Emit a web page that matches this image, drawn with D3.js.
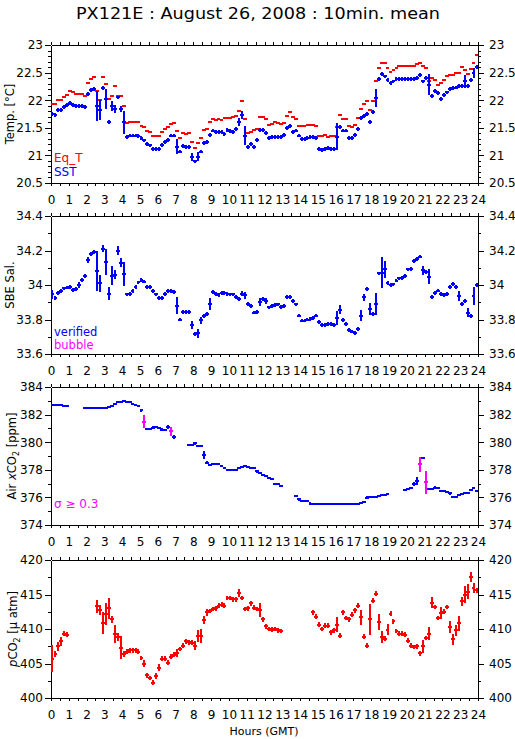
<!DOCTYPE html>
<html><head><meta charset="utf-8">
<script src="https://cdn.jsdelivr.net/npm/d3@7"></script>
<style>body{margin:0;background:#fff}svg{display:block}text{font-family:"DejaVu Sans",sans-serif}</style>
</head><body><svg id="c" width="515" height="739"></svg>
<script>
// ---------- DATA (10-minute means, index i = minute 10*i+5 GMT) ----------
const STEP_MIN = 10;
const hourTicks = [0,1,2,3,4,5,6,7,8,9,10,11,12,13,14,15,16,17,18,19,20,21,22,23,24];
const tempTicks = [20.5,21,21.5,22,22.5,23];
const salTicks = [33.6,33.8,34,34.2,34.4];
const xco2Ticks = [374,376,378,380,382,384];
const pco2Ticks = [400,405,410,415,420];

const eqT = [21.93,21.93,22.0,22.0,22.06,22.1,22.17,22.14,22.11,22.11,
 22.12,22.08,22.31,22.38,22.42,22.17,22.0,22.42,22.3,22.02,
 22.08,22.26,22.08,22.08,21.89,21.58,21.6,21.6,21.6,21.6,
 21.54,21.52,21.44,21.42,21.36,21.36,21.36,21.42,21.48,21.52,
 21.57,21.58,21.44,21.31,21.4,21.39,21.4,21.24,21.13,21.22,
 21.31,21.46,21.48,21.6,21.66,21.65,21.66,21.64,21.67,21.68,
 21.67,21.7,21.72,21.81,21.99,21.66,21.4,21.43,21.46,21.48,
 21.69,21.69,21.66,21.55,21.57,21.6,21.58,21.57,21.58,21.72,
 21.78,21.7,21.66,21.54,21.54,21.54,21.55,21.55,21.55,21.54,
 21.36,21.35,21.37,21.33,21.36,21.35,21.52,21.73,21.66,21.66,
 21.54,21.52,21.55,21.67,21.84,21.93,21.99,21.82,21.99,22.34,
 22.58,22.67,22.67,22.58,22.51,22.54,22.59,22.62,22.62,22.62,
 22.62,22.62,22.62,22.65,22.68,22.62,22.58,22.34,22.4,22.37,
 22.28,22.32,22.37,22.43,22.46,22.45,22.5,22.49,22.6,22.55,
 22.48,22.56,22.67,22.82];

const sst = [21.75,21.73,21.83,21.83,21.87,21.92,21.95,21.92,21.89,21.9,
 21.9,21.87,22.11,22.19,22.2,21.9,21.83,22.22,22.02,21.6,
 21.9,21.84,22.05,21.84,21.6,21.33,21.36,21.36,21.36,21.35,
 21.31,21.27,21.2,21.18,21.11,21.11,21.11,21.19,21.25,21.28,
 21.36,21.36,21.16,21.07,21.17,21.16,21.15,20.97,20.89,20.98,
 21.07,21.22,21.25,21.37,21.45,21.43,21.42,21.42,21.39,21.46,
 21.44,21.43,21.48,21.61,21.73,21.36,21.16,21.2,21.15,21.28,
 21.46,21.46,21.4,21.31,21.33,21.34,21.34,21.33,21.37,21.49,
 21.54,21.43,21.45,21.36,21.3,21.3,21.31,21.33,21.34,21.31,
 21.12,21.1,21.12,21.13,21.12,21.12,21.34,21.52,21.45,21.45,
 21.31,21.31,21.37,21.48,21.67,21.72,21.75,21.6,21.78,22.04,
 22.38,22.48,22.43,22.36,22.31,22.34,22.38,22.38,22.38,22.38,
 22.38,22.38,22.38,22.41,22.45,22.34,22.4,22.28,22.08,22.17,
 22.13,22.02,22.1,22.14,22.2,22.22,22.23,22.26,22.25,22.34,
 22.26,22.37,22.49,22.6];
const sstErrDefault = 0.035;
const sstErr = [[15,0.27],[16,0.18],[18,0.18],[20,0.09],[21,0.075],[23,0.06],[24,0.21],[42,0.135],[47,0.075],[49,0.09],[63,0.075],[64,0.075],[65,0.165],[96,0.24],[109,0.165],[127,0.19],[139,0.12],[142,0.09]];

const sal = [33.945,33.925,33.955,33.965,33.98,33.985,33.99,33.97,33.977,34.0,
 34.03,34.05,34.145,34.18,34.19,34.08,34.01,34.21,34.135,33.95,
 34.055,34.06,34.2,34.13,34.065,33.945,33.95,33.965,33.99,34.015,
 34.03,34.02,33.99,33.99,33.965,33.945,33.925,33.925,33.95,33.965,
 33.965,33.96,33.88,33.8,33.845,33.845,33.845,33.77,33.715,33.72,
 33.795,33.82,33.83,33.89,33.96,33.95,33.943,33.955,33.955,33.95,
 33.945,33.945,33.93,33.92,33.95,33.94,33.89,33.88,33.84,33.845,
 33.9,33.92,33.906,33.87,33.877,33.883,33.887,33.873,33.88,33.93,
 33.93,33.905,33.887,33.823,33.794,33.794,33.8,33.805,33.81,33.823,
 33.784,33.77,33.767,33.776,33.776,33.77,33.81,33.857,33.795,33.775,
 33.74,33.73,33.722,33.745,33.823,33.93,33.975,33.86,33.832,33.89,
 34.067,34.07,34.09,34.013,34.0,34.003,34.026,34.038,34.04,34.05,
 34.09,34.095,34.14,34.15,34.165,34.085,34.077,34.047,33.93,33.955,
 33.968,33.95,33.94,33.95,33.99,34.007,33.99,33.935,33.89,33.906,
 33.838,33.82,33.935,34.0];
const salErrDefault = 0.011;
const salErr = [[0,0.024],[9,0.019],[12,0.019],[15,0.116],[16,0.048],[17,0.021],[18,0.075],[19,0.037],[20,0.056],[21,0.027],[22,0.024],[23,0.026],[24,0.068],[42,0.048],[47,0.024],[49,0.027],[50,0.019],[53,0.034],[64,0.016],[65,0.022],[70,0.024],[72,0.019],[96,0.039],[97,0.026],[104,0.034],[105,0.02],[107,0.034],[109,0.063],[111,0.09],[112,0.048],[125,0.027],[127,0.044],[137,0.029],[140,0.026],[142,0.053]];

const xco2 = [382.7,382.7,382.7,382.68,382.65,382.65,null,null,null,null,
 null,382.5,382.5,382.5,382.5,382.5,382.5,382.5,382.5,382.55,
 382.65,382.78,382.88,382.92,382.95,382.93,382.9,382.78,382.7,382.62,
 382.3,381.5,380.97,380.97,381.05,381.1,381.0,380.9,380.88,381.1,
 380.8,380.37,null,null,null,null,379.77,379.82,379.92,379.75,
 379.7,379.05,378.52,378.33,378.4,378.45,378.4,378.25,378.1,378.0,
 377.97,377.97,378.0,378.1,378.2,378.25,378.23,378.16,378.1,377.9,
 377.8,377.6,377.55,377.4,377.35,377.0,376.95,376.85,null,null,
 null,null,376.1,375.85,375.75,375.75,375.75,375.55,375.5,375.5,
 375.5,375.5,375.5,375.5,375.5,375.5,375.5,375.5,375.5,375.5,
 375.5,375.52,375.52,375.55,375.57,375.65,375.97,376.0,376.0,376.05,
 376.1,376.15,376.2,376.25,null,null,null,null,null,376.52,
 376.6,376.7,376.96,377.2,378.4,378.85,377.1,376.6,376.6,376.7,
 376.7,376.5,376.45,376.4,376.3,376.05,376.05,376.18,376.25,376.35,
 376.35,376.55,376.65,376.5];
const xco2ErrDefault = 0.04;
const xco2Err = [[30,0.12],[31,0.48],[34,0.12],[35,0.1],[37,0.12],[39,0.12],[40,0.32],[41,0.12],[48,0.1],[51,0.28],[52,0.12],[69,0.1],[72,0.1],[83,0.1],[87,0.1],[95,0.08],[106,0.12],[113,0.1],[122,0.12],[123,0.28],[124,0.56],[126,0.84],[129,0.1],[134,0.1],[137,0.1]];
const sigmaLimit = 0.3;

const pco2 = [405.7,406.4,407.5,408.2,409.3,409.2,null,null,null,null,
 null,null,null,null,null,413.3,412.8,410.9,412.2,413.0,
 411.4,409.3,408.8,407.3,406.4,406.7,406.9,406.9,406.9,406.7,
 405.8,405.0,403.3,402.9,402.2,403.2,404.4,405.7,405.7,405.1,
 406.0,406.3,406.5,407.1,407.6,408.2,408.1,408.0,407.6,409.0,
 409.0,411.3,412.4,412.6,412.9,413.0,413.4,413.5,413.4,414.5,
 414.5,414.3,414.3,415.2,414.5,412.9,413.0,413.7,413.1,412.9,
 412.8,411.4,410.4,410.0,409.9,410.0,409.8,409.7,null,null,
 null,null,null,null,null,null,null,null,412.4,411.8,
 410.6,410.0,410.5,410.5,409.5,409.8,410.6,409.0,412.4,411.6,
 411.4,412.1,412.7,413.4,411.7,408.9,407.6,411.4,414.1,415.1,
 411.0,408.8,408.6,409.9,412.2,411.1,409.7,409.3,409.3,409.2,
 408.3,407.6,407.4,407.5,406.5,407.5,408.7,409.3,413.8,413.2,
 411.6,412.3,412.5,413.2,410.3,408.5,409.8,410.8,414.0,415.0,
 415.4,417.6,415.9,415.6];
const pco2ErrDefault = 0.35;
const pco2Err = [[0,1.92],[1,0.48],[2,0.65],[3,0.62],[15,0.91],[16,0.72],[17,1.63],[18,1.56],[19,1.49],[20,0.53],[21,1.27],[22,0.6],[23,1.68],[24,0.48],[31,0.55],[35,0.48],[36,0.48],[42,0.53],[48,0.65],[49,0.91],[50,1.03],[51,0.53],[52,0.48],[63,0.53],[70,1.0],[96,1.08],[104,1.1],[107,2.24],[110,1.2],[111,0.84],[113,0.84],[125,0.96],[127,0.96],[128,0.79],[131,0.84],[134,0.91],[135,0.79],[136,0.84],[137,1.08],[138,0.67],[139,1.2],[140,1.08],[141,0.72],[142,0.72]];

// ---------- LAYOUT / STYLE ----------
const RED = "#ff0000", BLUE = "#0000ff", MAG = "#ff00ff";
const svg = d3.select("#c");
const plotL = 51, plotR = 478, panelH = 138;
const panelTops = [45, 216, 387, 560];
const halfBarMin = 6.5;  // half width of the 10-min bar (minutes)
const times = eqT.map((_, i) => (i * STEP_MIN + STEP_MIN / 2) / 60);

const x = d3.scaleLinear().domain([0, 24]).range([plotL, plotR]);
const halfTicks = d3.range(0, 48.5).map(k => k / 2);

function styleAxis(g, size) {
  g.attr("font-family", "DejaVu Sans").attr("font-size", size);
  g.selectAll("line").attr("stroke", "#000").attr("shape-rendering", "crispEdges");
  g.selectAll("path").attr("stroke", "#000").attr("shape-rendering", "crispEdges");
  g.selectAll("text").attr("fill", "#000");
}

function makePanel(idx, domain, ticks, minorStep) {
  const top = panelTops[idx], bot = top + panelH;
  const y = d3.scaleLinear().domain(domain).range([bot, top]);
  const minor = d3.range(Math.round((domain[1] - domain[0]) / minorStep) + 1).map(k => domain[0] + k * minorStep);
  const g = svg.append("g");
  // minor ticks
  g.append("g").attr("transform", `translate(${plotL},0)`)
    .call(d3.axisLeft(y).tickValues(minor).tickSize(3).tickSizeOuter(0).tickFormat(""))
    .call(a => styleAxis(a, 12));
  g.append("g").attr("transform", `translate(${plotR},0)`)
    .call(d3.axisRight(y).tickValues(minor).tickSize(3).tickSizeOuter(0).tickFormat(""))
    .call(a => styleAxis(a, 12));
  // major ticks with labels
  g.append("g").attr("transform", `translate(${plotL},0)`)
    .call(d3.axisLeft(y).tickValues(ticks).tickSize(6).tickPadding(2).tickSizeOuter(0).tickFormat(d => String(d)))
    .call(a => styleAxis(a, 12));
  g.append("g").attr("transform", `translate(${plotR},0)`)
    .call(d3.axisRight(y).tickValues(ticks).tickSize(6).tickPadding(5).tickSizeOuter(0).tickFormat(d => String(d)))
    .call(a => styleAxis(a, 12));
  // x axes
  g.append("g").attr("transform", `translate(0,${top})`)
    .call(d3.axisTop(x).tickValues(halfTicks).tickSize(3).tickSizeOuter(0).tickFormat(""))
    .call(a => styleAxis(a, 12));
  g.append("g").attr("transform", `translate(0,${bot})`)
    .call(d3.axisBottom(x).tickValues(halfTicks).tickSize(3).tickSizeOuter(0)
      .tickPadding(9).tickFormat(d => hourTicks.includes(d) ? String(d) : ""))
    .call(a => styleAxis(a, 12));
  return {g, y, top, bot};
}

function errMap(pairs) { return new Map(pairs); }

function drawMarks(p, vals, errs, errDefault, colorFn, showVertical) {
  const m = errMap(errs);
  const layer = p.g.append("g").attr("shape-rendering", "crispEdges").attr("stroke-width", 2);
  vals.forEach((v, i) => {
    if (v == null) return;
    const t = times[i];
    const c = colorFn(v, i, m.has(i) ? m.get(i) : errDefault);
    layer.append("line")
      .attr("x1", x(t - halfBarMin / 60)).attr("x2", x(t + halfBarMin / 60))
      .attr("y1", p.y(v)).attr("y2", p.y(v)).attr("stroke", c);
    if (showVertical) {
      const e = m.has(i) ? m.get(i) : errDefault;
      layer.append("line")
        .attr("x1", x(t)).attr("x2", x(t))
        .attr("y1", p.y(v - e)).attr("y2", p.y(v + e)).attr("stroke", c);
    }
  });
}

function yTitle(p, xpos, build) {
  const t = svg.append("text")
    .attr("transform", `translate(${xpos},${(p.top + p.bot) / 2}) rotate(-90)`)
    .attr("text-anchor", "middle").attr("font-size", 11.5).attr("fill", "#000");
  build(t);
}

// ---------- PANELS ----------
const p1 = makePanel(0, [20.5, 23], tempTicks, 0.1);
drawMarks(p1, eqT, [], 0, () => RED, false);
drawMarks(p1, sst, sstErr, sstErrDefault, () => BLUE, true);
yTitle(p1, 14, t => t.text("Temp. [°C]"));
svg.append("text").attr("x", 54).attr("y", p1.bot - 21).attr("font-size", 12).attr("fill", RED).text("Eq_T");
svg.append("text").attr("x", 54).attr("y", p1.bot - 7).attr("font-size", 12).attr("fill", BLUE).text("SST");

const p2 = makePanel(1, [33.6, 34.4], salTicks, 0.1);
drawMarks(p2, sal, salErr, salErrDefault, () => BLUE, true);
yTitle(p2, 13.5, t => t.text("SBE Sal."));
svg.append("text").attr("x", 54).attr("y", p2.bot - 18).attr("font-size", 11.5).attr("fill", BLUE).text("verified");
svg.append("text").attr("x", 54).attr("y", p2.bot - 5).attr("font-size", 11.5).attr("fill", MAG).text("bubble");

const p3 = makePanel(2, [374, 384], xco2Ticks, 1);
drawMarks(p3, xco2, xco2Err, xco2ErrDefault, (v, i, e) => e >= sigmaLimit ? MAG : BLUE, true);
yTitle(p3, 15.5, t => {
  t.append("tspan").text("Air ");
  t.append("tspan").attr("font-style", "italic").text("x");
  t.append("tspan").text("CO");
  t.append("tspan").attr("font-size", 8).attr("dy", 3).text("2");
  t.append("tspan").attr("dy", -3).text(" [ppm]");
});
svg.append("text").attr("x", 54).attr("y", p3.bot - 17).attr("font-size", 12).attr("fill", MAG).text("σ ≥ 0.3");

const p4 = makePanel(3, [400, 420], pco2Ticks, 2.5);
drawMarks(p4, pco2, pco2Err, pco2ErrDefault, () => RED, true);
yTitle(p4, 16.5, t => {
  t.append("tspan").attr("font-style", "italic").text("p");
  t.append("tspan").text("CO");
  t.append("tspan").attr("font-size", 8).attr("dy", 3).text("2");
  t.append("tspan").attr("dy", -3).text(" [µ atm]");
});

// ---------- TITLES ----------
svg.append("text").attr("x", 258).attr("y", 19).attr("text-anchor", "middle")
  .attr("font-size", 16.5).attr("textLength", 364).attr("lengthAdjust", "spacingAndGlyphs")
  .attr("fill", "#000").text("PX121E : August 26, 2008 : 10min. mean");
svg.append("text").attr("x", 264).attr("y", 735).attr("text-anchor", "middle")
  .attr("font-size", 11).attr("fill", "#000").text("Hours (GMT)");
</script></body></html>
